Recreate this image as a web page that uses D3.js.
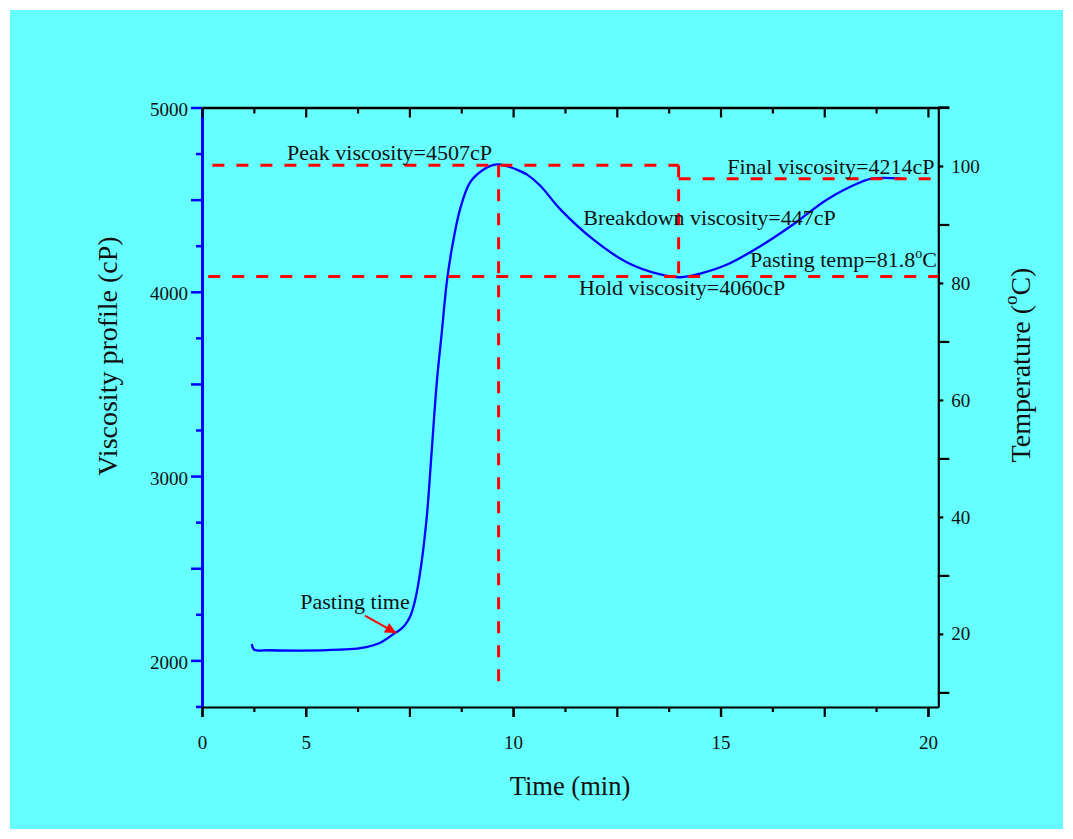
<!DOCTYPE html>
<html>
<head>
<meta charset="utf-8">
<script src="https://cdn.jsdelivr.net/npm/d3@7"></script>
<style>
  html, body { margin: 0; padding: 0; background: #ffffff; }
  svg { display: block; }
  text { font-family: "Liberation Serif", "Times New Roman", serif; fill: #111; }
</style>
</head>
<body>
<svg id="chart" width="1073" height="839"></svg>
<script>
// ---------- data ----------
const timeMin = [3.70, 3.76, 4.14, 4.87, 5.83, 6.31, 6.80, 7.16, 7.28, 7.40, 7.52, 7.64, 7.78, 7.92, 8.04, 8.16, 8.28, 8.40, 8.52, 8.72, 8.96, 9.29, 9.61, 9.85, 10.17, 10.33, 10.65, 11.14, 11.93, 12.75, 13.55, 14.03, 14.51, 15.16, 15.95, 16.75, 17.57, 18.36, 18.68, 19.33];
const viscosity = [2089, 2058, 2055, 2053, 2058, 2066, 2096, 2150, 2167, 2194, 2239, 2329, 2510, 2782, 3144, 3508, 3779, 4050, 4230, 4447, 4593, 4664, 4691, 4682, 4655, 4637, 4577, 4447, 4284, 4159, 4094, 4079, 4099, 4148, 4246, 4365, 4501, 4593, 4615, 4615];

// reference levels (cP) and times (min) for dashed guide lines
const peakLevel = 4686, finalLevel = 4614, holdLevel = 4083;
const peakTime = 9.65, holdTime = 13.99;
const peakLineStart = 2.75, holdLineStart = 2.65, peakLineBottom = 1879;

// axis ticks
const xTickValues = [2.5, 5, 10, 15, 20];
const xTickLabels = ["0", "5", "10", "15", "20"];
const xMajorTicks = [2.5, 5, 7.5, 10, 12.5, 15, 17.5, 20];
const xMinorTicks = [3.75, 6.25, 8.75, 11.25, 13.75, 16.25, 18.75];
const yMajorTicks = [2000, 2500, 3000, 3500, 4000, 4500, 5000];
const yMinorTicks = [1750, 2250, 2750, 3250, 3750, 4250, 4750];
const yLabelTicks = [2000, 3000, 4000, 5000];
const tLabelTicks = [20, 40, 60, 80, 100];
const tLongTicks = [10, 30, 50, 70, 90, 110];

// annotations: [text, time, viscosity]
const annotations = [
  ["Peak viscosity=4507cP", 4.55, 4715],
  ["Final viscosity=4214cP", 15.16, 4640],
  ["Breakdown viscosity=447cP", 11.69, 4363],
  ["Hold viscosity=4060cP", 11.59, 3983],
  ["Pasting time", 4.87, 2279]
];

// ---------- layout ----------
const svg = d3.select("#chart");
svg.append("rect").attr("x", 10).attr("y", 10).attr("width", 1053).attr("height", 819).attr("fill", "#66ffff");

const x = d3.scaleLinear().domain([2.5, 20.25]).range([202, 938.3]);
const y = d3.scaleLinear().domain([1747, 5000]).range([707, 107.5]);
const yT = d3.scaleLinear().domain([7.5, 110]).range([707, 107.5]);

const BLUE = "#0000ff", RED = "#ff0000", BLACK = "#000";

function styleAxis(g, color, w, dw) {
  g.selectAll("line").attr("stroke", color).attr("stroke-width", w);
  g.selectAll("path.domain").attr("stroke", color).attr("stroke-width", dw);
  g.selectAll("text").attr("fill", "#111").style("font-family", '"Liberation Serif","Times New Roman",serif');
}

// left axis (blue)
const gL1 = svg.append("g").attr("transform", "translate(202,0)")
  .call(d3.axisLeft(y).tickValues(yMinorTicks).tickSize(6).tickSizeOuter(0).tickFormat(""));
gL1.select("path.domain").remove();
styleAxis(gL1, BLUE, 2.5, 3);
const gL = svg.append("g").attr("transform", "translate(202,0)")
  .call(d3.axisLeft(y).tickValues(yMajorTicks).tickSize(11).tickSizeOuter(0).tickPadding(3)
    .tickFormat(d => yLabelTicks.includes(d) ? d : ""));
styleAxis(gL, BLUE, 2.5, 3);
gL.selectAll("text").attr("font-size", 19).attr("dy", "0.42em");

// right axis (black, temperature)
const gR1 = svg.append("g").attr("transform", "translate(938.3,0)")
  .call(d3.axisRight(yT).tickValues(tLongTicks).tickSize(11).tickSizeOuter(0).tickFormat(""));
styleAxis(gR1, BLACK, 2.2, 2.2);
const gR = svg.append("g").attr("transform", "translate(938.3,0)")
  .call(d3.axisRight(yT).tickValues(tLabelTicks).tickSize(5).tickSizeOuter(0).tickPadding(8).tickFormat(d => d));
gR.select("path.domain").remove();
styleAxis(gR, BLACK, 2.2, 2.2);
gR.selectAll("text").attr("font-size", 19);

// bottom axis
const gB1 = svg.append("g").attr("transform", "translate(0,707)")
  .call(d3.axisBottom(x).tickValues(xMinorTicks).tickSize(5).tickSizeOuter(0).tickFormat(""));
gB1.select("path.domain").remove();
styleAxis(gB1, BLACK, 2.2, 2.2);
const gB2 = svg.append("g").attr("transform", "translate(0,707)")
  .call(d3.axisBottom(x).tickValues(xMajorTicks).tickSize(10).tickSizeOuter(0).tickFormat(""));
styleAxis(gB2, BLACK, 2.2, 2.2);
const gB = svg.append("g").attr("transform", "translate(0,707)")
  .call(d3.axisBottom(x).tickValues(xTickValues).tickSize(10).tickSizeOuter(0).tickPadding(19)
    .tickFormat((d, i) => xTickLabels[i]));
gB.select("path.domain").remove();
styleAxis(gB, BLACK, 2.2, 2.2);
gB.selectAll("text").attr("font-size", 19);

// top axis (mirror, ticks inward)
const gT1 = svg.append("g").attr("transform", "translate(0,107.5)")
  .call(d3.axisBottom(x).tickValues(xMinorTicks).tickSize(6).tickSizeOuter(0).tickFormat(""));
gT1.select("path.domain").remove();
styleAxis(gT1, BLACK, 2.2, 2.2);
const gT = svg.append("g").attr("transform", "translate(0,107.5)")
  .call(d3.axisBottom(x).tickValues(xMajorTicks).tickSize(10).tickSizeOuter(0).tickFormat(""));
styleAxis(gT, BLACK, 2.2, 2.4);
// top line extends to the 110 tick on right
svg.append("line").attr("x1", x(20.25)).attr("x2", x(20.25) + 11).attr("y1", yT(110)).attr("y2", yT(110))
  .attr("stroke", BLACK).attr("stroke-width", 2.4);

// ---------- viscosity curve ----------
const pts = timeMin.map((t, i) => [t, viscosity[i]]);
svg.append("path")
  .attr("d", d3.line().x(d => x(d[0])).y(d => y(d[1])).curve(d3.curveCatmullRom.alpha(0.5))(pts))
  .attr("fill", "none").attr("stroke", BLUE).attr("stroke-width", 2.3)
  .attr("stroke-linejoin", "round");

// ---------- dashed guide lines ----------
const dash = "12,12";
function dline(t1, v1, t2, v2) {
  svg.append("line").attr("x1", x(t1)).attr("y1", y(v1)).attr("x2", x(t2)).attr("y2", y(v2))
    .attr("stroke", RED).attr("stroke-width", 3).attr("stroke-dasharray", dash);
}
dline(peakLineStart, peakLevel, holdTime, peakLevel);
dline(holdTime, peakLevel, holdTime, holdLevel);
dline(holdTime, finalLevel, 20.25, finalLevel);
dline(holdLineStart, holdLevel, 20.25, holdLevel);
dline(peakTime, peakLevel, peakTime, peakLineBottom);

// ---------- annotations ----------
annotations.forEach(([txt, t, v]) => {
  svg.append("text").attr("x", x(t)).attr("y", y(v)).attr("font-size", 22).text(txt);
});
const pt = svg.append("text").attr("x", x(15.71)).attr("y", y(4136)).attr("font-size", 22);
pt.append("tspan").text("Pasting temp=81.8");
pt.append("tspan").attr("font-size", 14).attr("dy", -9).text("o");
pt.append("tspan").attr("dy", 9).text("C");

// arrow for pasting time
svg.append("defs").append("marker").attr("id", "arr").attr("viewBox", "0 0 10 10")
  .attr("refX", 10).attr("refY", 5).attr("markerWidth", 17).attr("markerHeight", 11)
  .attr("markerUnits", "userSpaceOnUse").attr("orient", "auto")
  .append("path").attr("d", "M0,0 L10,5 L0,10 Z").attr("fill", RED);
svg.append("line").attr("x1", x(6.43)).attr("y1", y(2243)).attr("x2", x(7.18)).attr("y2", y(2148))
  .attr("stroke", RED).attr("stroke-width", 1.8).attr("marker-end", "url(#arr)");

// ---------- axis titles ----------
svg.append("text").attr("x", 570).attr("y", 795).attr("text-anchor", "middle").attr("font-size", 26.5).text("Time (min)");
svg.append("text").attr("transform", "translate(117,356) rotate(-90)").attr("text-anchor", "middle")
  .attr("font-size", 28).text("Viscosity profile (cP)");
const tt = svg.append("text").attr("transform", "translate(1030,365) rotate(-90)").attr("text-anchor", "middle")
  .attr("font-size", 28);
tt.append("tspan").text("Temperature (");
tt.append("tspan").attr("font-size", 19).attr("dy", -13).text("o");
tt.append("tspan").attr("dy", 13).text("C)");
</script>
</body>
</html>
